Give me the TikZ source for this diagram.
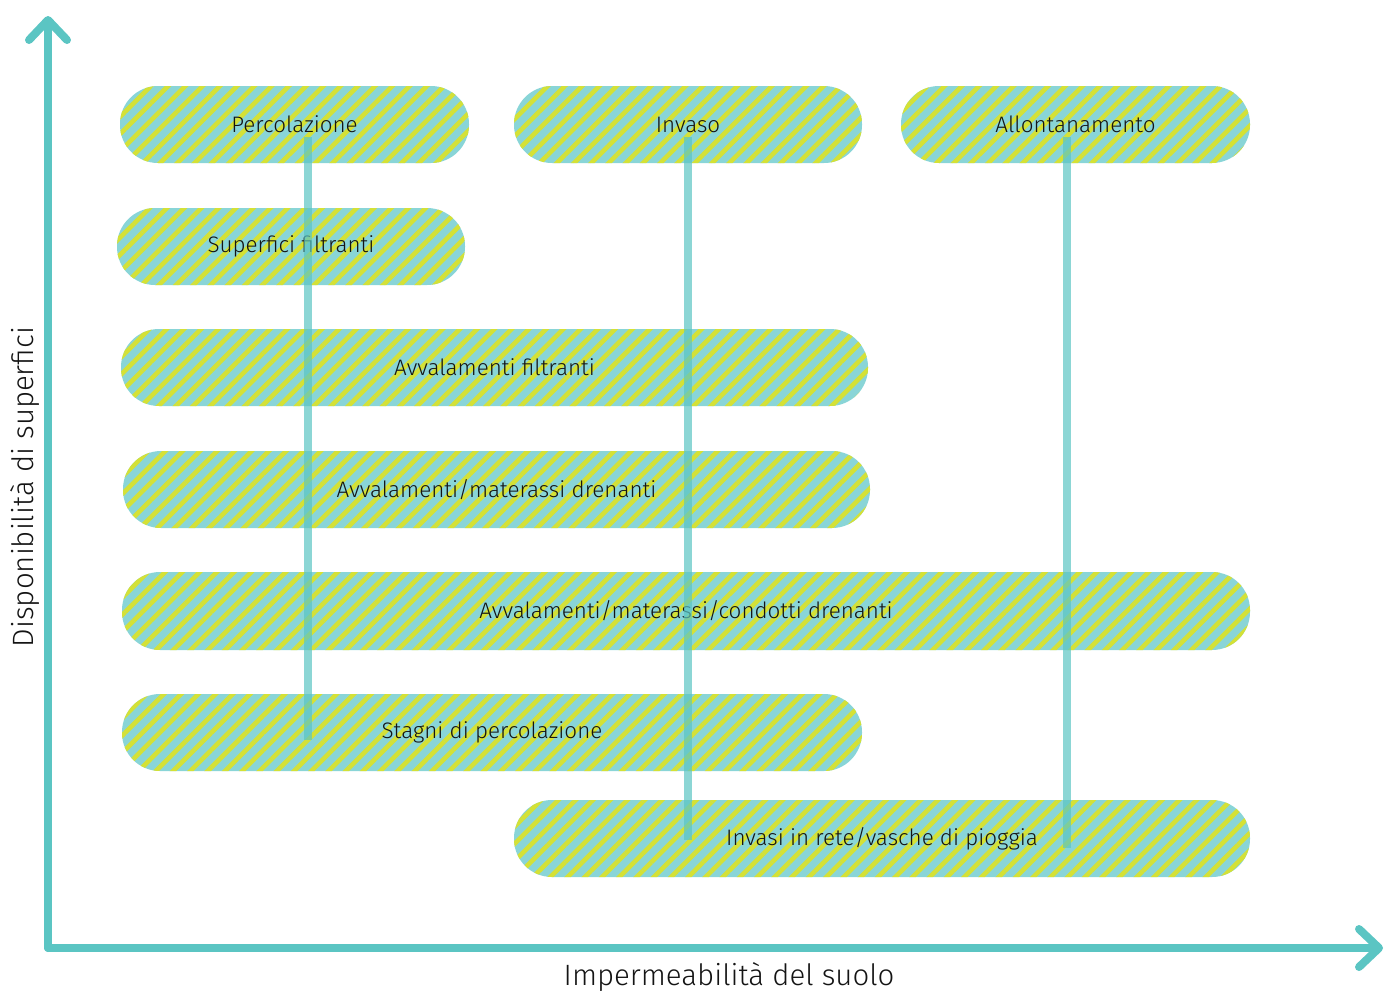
\documentclass[tikz,border=0pt]{standalone}
\usepackage{fontspec}
\setmainfont{Fira Sans Light}
\usetikzlibrary{arrows.meta,patterns.meta,positioning}
\definecolor{axisteal}{HTML}{5BC5C3}
\definecolor{barteal}{HTML}{89D5D7}
\definecolor{barlime}{HTML}{D4E136}
\tikzset{bar/.style={
    % The shape:
    rectangle,
    rounded corners=38pt,
    % The size:
    minimum height=77pt,
    inner sep=0pt,
    % The filling:
    fill=barteal,
    postaction={pattern={Lines[angle=45,distance=12.2pt,line width=4.6pt]},pattern color=barlime},
    % Font
    font=\fontsize{22.4}{26}\selectfont,
    text=black!92,
    },
    axis/.style={
    line width=8pt,
    draw=axisteal,
    line cap=round,
    -{Straight Barb[length=20pt,width=38pt,round]},
    },
    guide/.style={
    line width=8pt,
    draw=axisteal,
    draw opacity=0.7,
    },
    axislabel/.style={
    font=\fontsize{29.4}{34}\selectfont,
    text=black!92,
    },
}

\begin{document}
\begin{tikzpicture}[x=1pt,y=-1pt]
    \useasboundingbox (0,0) rectangle (1391,996);

    \node (perc)    [bar,minimum width=349pt] at (294.5,124.5)  {Percolazione};
    \node (invaso)  [bar,minimum width=348pt] at (688,124.5)    {Invaso};
    \node (allont)  [bar,minimum width=349pt] at (1075.5,124.5) {Allontanamento};
    \node (superf)  [bar,minimum width=348pt] at (291,246.5)    {Superfici filtranti};
    \node (avvfil)  [bar,minimum width=747pt] at (494.5,367.5)  {Avvalamenti filtranti};
    \node (avvmat)  [bar,minimum width=747pt] at (496.5,489.5)  {Avvalamenti/materassi drenanti};
    \node (avvcon)  [bar,minimum width=1128pt,minimum height=78pt] at (686,611) {Avvalamenti/materassi/condotti drenanti};
    \node (stagni)  [bar,minimum width=740pt] at (492,732.5)    {Stagni di percolazione};
    \node (invasi)  [bar,minimum width=736pt] at (882,838.5)    {Invasi in rete/vasche di pioggia};

    % vertical guides
    \coordinate (g1top) at (308,137);  \coordinate (g1bot) at (308,740);
    \coordinate (g2top) at (688,137);  \coordinate (g2bot) at (688,840);
    \coordinate (g3top) at (1067,137); \coordinate (g3bot) at (1067,848);
    \draw[guide] (g1top) -- (g1bot);
    \draw[guide] (g2top) -- (g2bot);
    \draw[guide] (g3top) -- (g3bot);

    % axes
    \coordinate (origin) at (48,948);
    \coordinate (ytip)   at (48,16);
    \coordinate (xtip)   at (1383,948);
    \draw[axis] (origin) -- (ytip);
    \draw[axis] (origin) -- (xtip);

    \node (xlab) [axislabel] at (729,977) {Impermeabilità del suolo};
    \node (ylab) [axislabel,rotate=90] at (25,487) {Disponibilità di superfici};
  \end{tikzpicture}
\end{document}
